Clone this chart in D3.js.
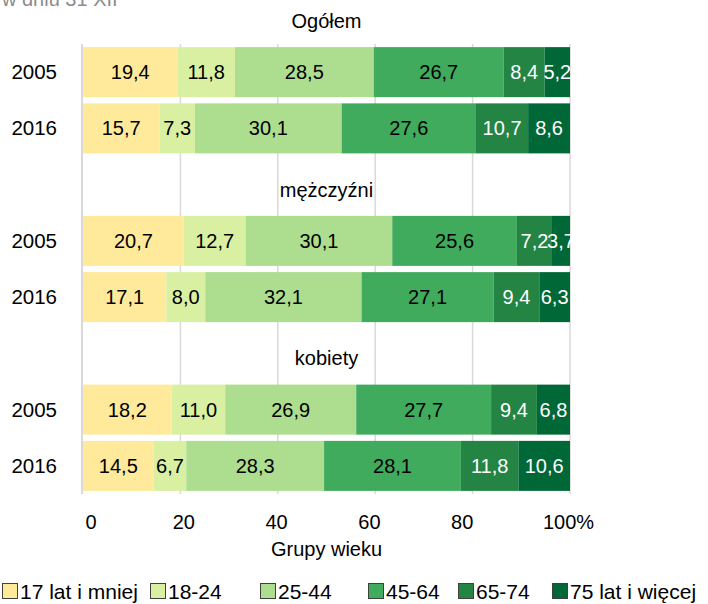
<!DOCTYPE html>
<html>
<head>
<meta charset="utf-8">
<script src="https://cdn.jsdelivr.net/npm/d3@7"></script>
<style>
  body { margin: 0; background: #fff; }
  svg { display: block; font-family: "Liberation Sans", Arial, sans-serif; }
</style>
</head>
<body>
<svg id="chart" width="708" height="604"></svg>
<script>
const groups = [`Ogółem`, `mężczyźni`, `kobiety`];
const years = [`2005`, `2016`];
const ageGroups = [`17 lat i mniej`, `18-24`, `25-44`, `45-64`, `65-74`, `75 lat i więcej`];

// shares in % per age group, [2005, 2016]
const ogolem = [[19.4, 11.8, 28.5, 26.7, 8.4, 5.2], [15.7, 7.3, 30.1, 27.6, 10.7, 8.6]];
const mezczyzni = [[20.7, 12.7, 30.1, 25.6, 7.2, 3.7], [17.1, 8.0, 32.1, 27.1, 9.4, 6.3]];
const kobiety = [[18.2, 11.0, 26.9, 27.7, 9.4, 6.8], [14.5, 6.7, 28.3, 28.1, 11.8, 10.6]];
const xTicks = [0, 20, 40, 60, 80, 100];

const colors = [`#ffe99b`, `#d9f0a3`, `#addd8e`, `#41ab5d`, `#238443`, `#006837`];
const labelColors = [`#000`, `#000`, `#000`, `#000`, `#fff`, `#fff`];

const width = 708;
const plotLeft = 83;
const plotRight = 570;
const plotTop = 44;
const plotBottom = 494;

const svg = d3.select(`#chart`);

const seriesByGroup = [ogolem, mezczyzni, kobiety];

// rows: one label row + one row per year for each group
const rowKeys = [];
groups.forEach(g => {
    rowKeys.push(`label|${g}`);
    years.forEach(y => rowKeys.push(`${g}|${y}`));
});

const step = (plotBottom - plotTop) / (rowKeys.length - 1);

const yScale = d3.scaleBand()
    .domain(rowKeys)
    .range([plotTop - step, plotBottom])
    .paddingInner(0.111)
    .paddingOuter(0.0555);

const xScale = d3.scaleLinear()
    .domain([0, 100])
    .range([plotLeft, plotRight]);

// tick labels are not exactly on the gridlines in the original
const tickLabelScale = d3.scaleLinear()
    .domain([0, 100])
    .range([91, 555]);

// gridlines
svg.append(`g`)
    .selectAll(`line`)
    .data(xTicks.slice(1))
    .enter()
    .append(`line`)
    .attr(`x1`, d => xScale(d))
    .attr(`x2`, d => xScale(d))
    .attr(`y1`, plotTop)
    .attr(`y2`, plotBottom)
    .attr(`stroke`, `#d9d9d9`)
    .attr(`stroke-width`, 1.5);

// rows
const rows = [];
groups.forEach((g, gi) => {
    years.forEach((y, yi) => {
        const vals = seriesByGroup[gi][yi];
        let acc = 0;
        const segs = vals.map((v, i) => {
            const s = { key: `${g}|${y}`, i, v, x0: acc, x1: acc + v };
            acc += v;
            return s;
        });
        rows.push({ key: `${g}|${y}`, year: y, segs });
    });
});

const rowG = svg.append(`g`)
    .selectAll(`g`)
    .data(rows)
    .enter()
    .append(`g`);

rowG.selectAll(`rect`)
    .data(d => d.segs)
    .enter()
    .append(`rect`)
    .attr(`x`, d => xScale(d.x0))
    .attr(`y`, d => yScale(d.key))
    .attr(`width`, d => xScale(d.x1) - xScale(d.x0))
    .attr(`height`, yScale.bandwidth())
    .attr(`fill`, d => colors[d.i]);

rowG.selectAll(`text.val`)
    .data(d => d.segs)
    .enter()
    .append(`text`)
    .attr(`class`, `val`)
    .attr(`x`, d => xScale((d.x0 + d.x1) / 2))
    .attr(`y`, d => yScale(d.key) + yScale.bandwidth() / 2 + 7)
    .attr(`text-anchor`, `middle`)
    .attr(`font-size`, 20)
    .attr(`fill`, d => labelColors[d.i])
    .text(d => d3.format(`.1f`)(d.v).replace(`.`, `,`));

// year labels
rowG.append(`text`)
    .attr(`x`, 57)
    .attr(`y`, d => yScale(d.key) + yScale.bandwidth() / 2 + 7)
    .attr(`text-anchor`, `end`)
    .attr(`font-size`, 20.5)
    .attr(`fill`, `#000`)
    .text(d => d.year);

// group labels
svg.append(`g`)
    .selectAll(`text`)
    .data(groups)
    .enter()
    .append(`text`)
    .attr(`x`, (plotLeft + plotRight) / 2)
    .attr(`y`, g => yScale(`label|${g}`) + yScale.bandwidth() / 2 + 12)
    .attr(`text-anchor`, `middle`)
    .attr(`font-size`, 20)
    .attr(`fill`, `#000`)
    .text(g => g);

// left axis line
svg.append(`line`)
    .attr(`x1`, plotLeft - 1)
    .attr(`x2`, plotLeft - 1)
    .attr(`y1`, plotTop)
    .attr(`y2`, plotBottom)
    .attr(`stroke`, `#d9d9d9`)
    .attr(`stroke-width`, 2);

// x tick labels
svg.append(`g`)
    .selectAll(`text`)
    .data(xTicks)
    .enter()
    .append(`text`)
    .attr(`x`, d => tickLabelScale(d))
    .attr(`y`, 529)
    .attr(`text-anchor`, `middle`)
    .attr(`font-size`, 20)
    .attr(`fill`, `#000`)
    .text(d => d)
    .filter(d => d === 100)
    .attr(`text-anchor`, `start`)
    .attr(`dx`, -12)
    .text(`100%`);

svg.append(`text`)
    .attr(`x`, (plotLeft + plotRight) / 2)
    .attr(`y`, 556)
    .attr(`text-anchor`, `middle`)
    .attr(`font-size`, 20)
    .attr(`fill`, `#000`)
    .text(`Grupy wieku`);

// cut-off subtitle at the top
svg.append(`text`)
    .attr(`x`, 2)
    .attr(`y`, 6)
    .attr(`font-size`, 20)
    .attr(`fill`, `#8c8c8c`)
    .text(`w dniu 31 XII`);

// legend
const legendX = [2, 150, 260, 368, 458, 552];
const legend = svg.append(`g`)
    .selectAll(`g`)
    .data(ageGroups)
    .enter()
    .append(`g`)
    .attr(`transform`, (d, i) => `translate(${legendX[i]}, 583)`);

legend.append(`rect`)
    .attr(`x`, 0.5)
    .attr(`y`, 0.5)
    .attr(`width`, 15)
    .attr(`height`, 15)
    .attr(`fill`, (d, i) => colors[i])
    .attr(`stroke`, `#404040`)
    .attr(`stroke-width`, 1);

legend.append(`text`)
    .attr(`x`, 18)
    .attr(`y`, 15.5)
    .attr(`font-size`, 21)
    .attr(`fill`, `#000`)
    .text(d => d);
</script>
</body>
</html>
